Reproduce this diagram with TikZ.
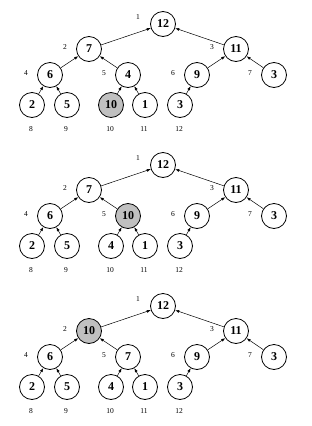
\documentclass[tikz,border=0pt]{standalone}
\usepackage{fontspec}
\setmainfont{Liberation Serif}
\usetikzlibrary{arrows.meta}
\definecolor{hot}{RGB}{192,192,192}

\begin{document}
\begin{tikzpicture}[x=1pt,y=-1pt,
  key/.style={circle,draw,line width=0.8pt,minimum size=25pt,inner sep=0pt,font=\fontsize{12}{12}\selectfont\bfseries},
  hotkey/.style={key,fill=hot},
  idx/.style={font=\fontsize{7.5}{7.5}\selectfont,inner sep=0pt},
  up/.style={-{Latex[length=4pt,width=3pt]},line width=0.5pt}]
  \useasboundingbox (0,0) rectangle (312,426);
  % one heap per scope: index/x/y/value, then the parent arrows
  \foreach \t/\dy/\vals/\hot in {a/0/{12,7,11,6,4,9,3,2,5,10,1,3}/10,
                                b/141/{12,7,11,6,10,9,3,2,5,4,1,3}/5,
                                c/282/{12,10,11,6,7,9,3,2,5,4,1,3}/2} {
    \begin{scope}[yshift=-\dy pt]
      \foreach \v [count=\i] in \vals {
        \ifnum\i=1 \def\px{163}\def\py{24}\fi
        \ifnum\i=2 \def\px{89}\def\py{49}\fi
        \ifnum\i=3 \def\px{236}\def\py{49}\fi
        \ifnum\i=4 \def\px{50}\def\py{75}\fi
        \ifnum\i=5 \def\px{128}\def\py{75}\fi
        \ifnum\i=6 \def\px{197}\def\py{75}\fi
        \ifnum\i=7 \def\px{274}\def\py{75}\fi
        \ifnum\i=8 \def\px{32}\def\py{105}\fi
        \ifnum\i=9 \def\px{67}\def\py{105}\fi
        \ifnum\i=10 \def\px{111}\def\py{105}\fi
        \ifnum\i=11 \def\px{145}\def\py{105}\fi
        \ifnum\i=12 \def\px{180}\def\py{105}\fi
        \ifnum\i=\hot
          \node[hotkey] (\t\i) at (\px,\py) {\v};
        \else
          \node[key] (\t\i) at (\px,\py) {\v};
        \fi
        % array index beside (upper levels) or below (leaves)
        \ifnum\i=1 \node[idx] (\t l\i) at (\px-25,\py-7) {\i};
        \else\ifnum\i<8 \node[idx] (\t l\i) at (\px-24,\py-2) {\i};
        \else \node[idx] (\t l\i) at (\px-1,\py+24) {\i};
        \fi\fi
      }
      \foreach \c in {2,...,12} {
        \pgfmathtruncatemacro{\p}{\c/2}
        \draw[up] (\t\c) -- (\t\p);
      }
    \end{scope}
  }
\end{tikzpicture}
\end{document}
